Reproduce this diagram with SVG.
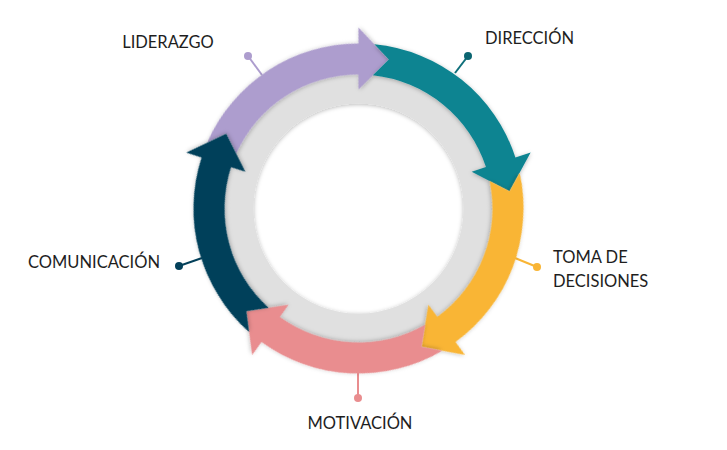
<svg xmlns="http://www.w3.org/2000/svg" xmlns:xlink="http://www.w3.org/1999/xlink" width="727" height="450" viewBox="0 0 727 450">
<style>
.lbl{font-family:Lato,"Liberation Sans",sans-serif;font-size:16.5px;fill:#1e1e1e}
.lead{stroke-width:2;fill:none}
</style>
<defs>
<filter id="sh" x="-20%" y="-20%" width="140%" height="140%">
<feDropShadow dx="0" dy="1" stdDeviation="2" flood-color="#000" flood-opacity="0.28"/>
</filter>
<path id="arrow" d="M15.85,-164.24 A165,165 0 0 1 156.92,-50.99 L172.14,-55.93 L151.02,-17.21 L113.18,-36.77 L127.44,-41.41 A134,134 0 0 0 14.39,-133.23 L30.30,-148.95 Z"/>
</defs>
<rect width="727" height="450" fill="#fff"/>
<circle cx="358.5" cy="208.5" r="119.5" fill="none" stroke="#e0e0e0" stroke-width="29" filter="url(#sh)"/>
<g id="connectors">
<line class="lead" x1="262" y1="75" x2="248" y2="56" stroke="#ad9dce"/>
<line class="lead" x1="455" y1="73" x2="468" y2="56" stroke="#0e6f7a"/>
<line class="lead" x1="515" y1="258" x2="537" y2="267" stroke="#f9b535"/>
<line class="lead" x1="358" y1="372" x2="358" y2="398" stroke="#e98d8f"/>
<line class="lead" x1="202" y1="258" x2="179" y2="266" stroke="#03405a"/>
</g>
<g id="liderazgo">
<use xlink:href="#arrow" href="#arrow" transform="translate(358.5,208.5) rotate(288)" fill="#ad9dce" filter="url(#sh)"/>
<circle cx="248" cy="56" r="4" fill="#ad9dce"/>
<text class="lbl" x="168" y="48" text-anchor="middle">LIDERAZGO</text>
</g>
<g id="direccion">
<use xlink:href="#arrow" href="#arrow" transform="translate(358.5,208.5) rotate(0)" fill="#0f8491" filter="url(#sh)"/>
<circle cx="468" cy="56" r="4" fill="#0b6571"/>
<text class="lbl" x="485" y="44">DIRECCIÓN</text>
</g>
<g id="toma-de-decisiones">
<use xlink:href="#arrow" href="#arrow" transform="translate(358.5,208.5) rotate(72)" fill="#f9b535" filter="url(#sh)"/>
<circle cx="537" cy="267" r="4" fill="#f9b535"/>
<text class="lbl" x="553" y="263">TOMA DE</text>
<text class="lbl" x="553" y="287">DECISIONES</text>
</g>
<g id="motivacion">
<use xlink:href="#arrow" href="#arrow" transform="translate(358.5,208.5) rotate(144)" fill="#e98d8f" filter="url(#sh)"/>
<circle cx="358" cy="398" r="4" fill="#e98d8f"/>
<text class="lbl" x="360" y="429" text-anchor="middle">MOTIVACIÓN</text>
</g>
<g id="comunicacion">
<use xlink:href="#arrow" href="#arrow" transform="translate(358.5,208.5) rotate(216)" fill="#03405a" filter="url(#sh)"/>
<circle cx="179" cy="266" r="4" fill="#03405a"/>
<text class="lbl" x="28" y="268">COMUNICACIÓN</text>
</g>
</svg>
